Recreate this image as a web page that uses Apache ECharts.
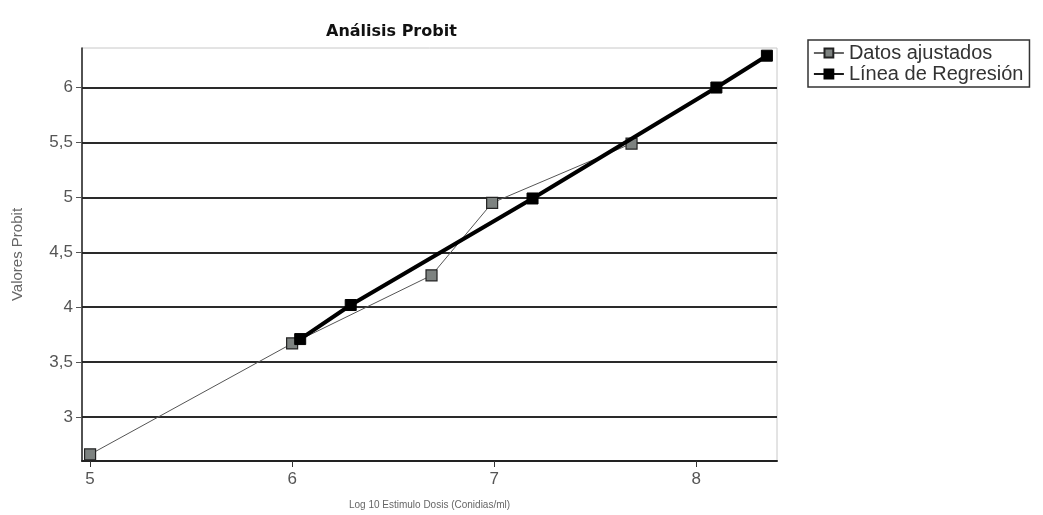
<!DOCTYPE html>
<html>
<head>
<meta charset="utf-8">
<script src="https://cdn.jsdelivr.net/npm/echarts@6/dist/echarts.min.js"></script>
<style>
  html, body { margin: 0; padding: 0; background: #fff; }
  #chart { width: 1043px; height: 515px; }
</style>
</head>
<body>
<div id="chart"></div>
<script>
// Probit analysis: fitted data points and the regression line
const seriesNames = ['Datos ajustados', 'Línea de Regresión'];

// Datos ajustados: [log10 dose, probit]
const fittedX = [5.0, 6.0, 6.69, 6.99, 7.68];
const fittedY = [2.66, 3.67, 4.29, 4.95, 5.49];

// Línea de Regresión: [log10 dose, probit]
const regressionX = [6.04, 6.29, 7.19, 8.10, 8.35];
const regressionY = [3.71, 4.02, 4.99, 6.00, 6.29];

// Axis ticks
const xTicks = [5, 6, 7, 8];
const yTicks = [3, 3.5, 4, 4.5, 5, 5.5, 6];

const pairs = (xs, ys) => xs.map((x, i) => [x, ys[i]]);

const chart = echarts.init(document.getElementById('chart'));
chart.setOption({
  backgroundColor: '#fff',
  animation: false,
  title: {
    text: 'Análisis Probit',
    left: 321,
    top: 19,
    textStyle: { fontFamily: 'DejaVu Sans', fontWeight: 'bold', fontSize: 16, color: '#111' }
  },
  legend: {
    orient: 'vertical',
    left: 808,
    top: 40,
    padding: [3, 6, 3, 5],
    itemGap: 1,
    itemWidth: 30,
    itemHeight: 11,
    borderColor: '#333',
    borderWidth: 1.5,
    lineStyle: { width: 1.8 },
    textStyle: { fontFamily: 'Liberation Sans', fontSize: 20, color: '#333' },
    data: seriesNames
  },
  grid: {
    left: 82, right: 266, top: 48, bottom: 52,
    show: true, borderColor: '#c8c8c8', borderWidth: 1
  },
  xAxis: {
    type: 'value',
    min: 4.96,
    max: 8.4,
    name: 'Log 10 Estimulo Dosis (Conidias/ml)',
    nameLocation: 'middle',
    nameGap: 39,
    nameTextStyle: { fontFamily: 'Liberation Sans', fontSize: 10, color: '#666' },
    axisLine: { lineStyle: { color: '#222', width: 2 } },
    axisTick: { show: true, length: 6, customValues: xTicks, lineStyle: { color: '#333' } },
    axisLabel: {
      customValues: xTicks, margin: 10,
      fontFamily: 'Liberation Sans', fontSize: 17, color: '#555'
    },
    splitLine: { show: false }
  },
  yAxis: {
    type: 'value',
    min: 2.6,
    max: 6.36,
    name: 'Valores Probit',
    nameLocation: 'middle',
    nameGap: 57,
    nameTextStyle: { fontFamily: 'Liberation Sans', fontSize: 15, color: '#666' },
    axisLine: { show: true, lineStyle: { color: '#222', width: 1.5 } },
    axisTick: { show: true, length: 6, customValues: yTicks, lineStyle: { color: '#555' } },
    axisLabel: {
      customValues: yTicks, margin: 9,
      fontFamily: 'Liberation Sans', fontSize: 17, color: '#555',
      formatter: v => String(v).replace('.', ',')
    },
    splitLine: { show: true, lineStyle: { color: '#2a2a2a', width: 2 } }
  },
  series: [
    {
      name: seriesNames[0],
      type: 'line',
      data: pairs(fittedX, fittedY),
      symbol: 'rect',
      symbolSize: 11,
      showAllSymbol: true,
      lineStyle: { color: '#555', width: 1 },
      itemStyle: { color: '#7d8280', borderColor: '#222', borderWidth: 1.2 },
      z: 2
    },
    {
      name: seriesNames[1],
      type: 'line',
      data: pairs(regressionX, regressionY),
      symbol: 'rect',
      symbolSize: 11,
      showAllSymbol: true,
      lineStyle: { color: '#000', width: 4 },
      itemStyle: { color: '#000', borderColor: '#000', borderWidth: 1 },
      z: 3
    }
  ]
});
</script>
</body>
</html>
